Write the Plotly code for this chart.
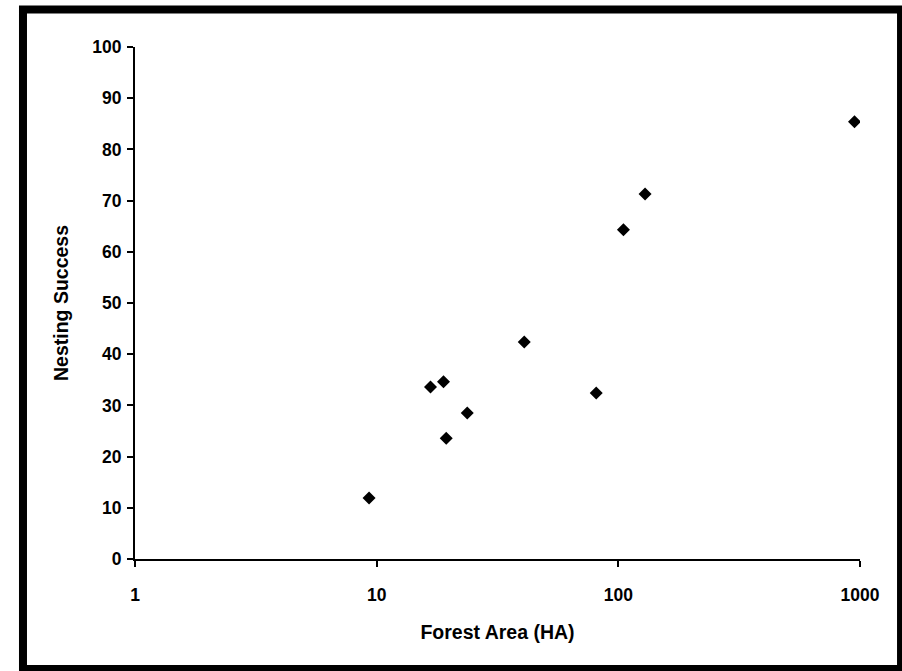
import plotly.graph_objects as go

forest_area = [9.3, 16.7, 18.9, 19.4, 23.7, 40.8, 81, 105, 129, 949]
nesting_success = [11.9, 33.6, 34.6, 23.6, 28.5, 42.4, 32.4, 64.3, 71.3, 85.4]
x_ticks = [1, 10, 100, 1000]
y_ticks = [0, 10, 20, 30, 40, 50, 60, 70, 80, 90, 100]

FONT = "Liberation Sans"

fig = go.Figure()
fig.add_trace(go.Scatter(
    x=forest_area, y=nesting_success, mode="markers",
    marker=dict(symbol="diamond", size=10, color="black"),
    showlegend=False,
))

fig.update_layout(
    width=902, height=671,
    margin=dict(l=135, r=42, t=47, b=112),
    paper_bgcolor="white", plot_bgcolor="white",
    font=dict(family=FONT, color="black", size=17),
    xaxis=dict(
        type="log", range=[0, 3],
        tickvals=x_ticks, ticktext=[str(v) for v in x_ticks],
        showgrid=False, zeroline=False,
        showline=True, linecolor="black", linewidth=2,
        ticks="outside", ticklen=6, tickcolor="black", tickwidth=1.5,
        tickfont=dict(family=FONT, size=17.5, weight="bold"),
        ticklabelstandoff=13,
        title=dict(text="Forest Area (HA)", font=dict(family=FONT, size=19.5, weight="bold"), standoff=21),
    ),
    yaxis=dict(
        range=[0, 100], tickvals=y_ticks,
        showgrid=False, zeroline=False,
        showline=True, linecolor="black", linewidth=2,
        ticks="outside", ticklen=6, tickcolor="black", tickwidth=1.5,
        tickfont=dict(family=FONT, size=17.5, weight="bold"),
        ticklabelstandoff=2,
        title=dict(text="Nesting Success", font=dict(family=FONT, size=19.5, weight="bold"), standoff=18),
    ),
    shapes=[dict(
        type="rect", xref="paper", yref="paper",
        x0=-0.1545, x1=1.0566, y0=-0.2148, y1=1.0732,
        line=dict(color="black", width=8), fillcolor="rgba(0,0,0,0)",
        layer="above",
    )],
)

fig.write_html("out.html", config={"displayModeBar": False},
               post_script="document.body.style.margin='0';")
